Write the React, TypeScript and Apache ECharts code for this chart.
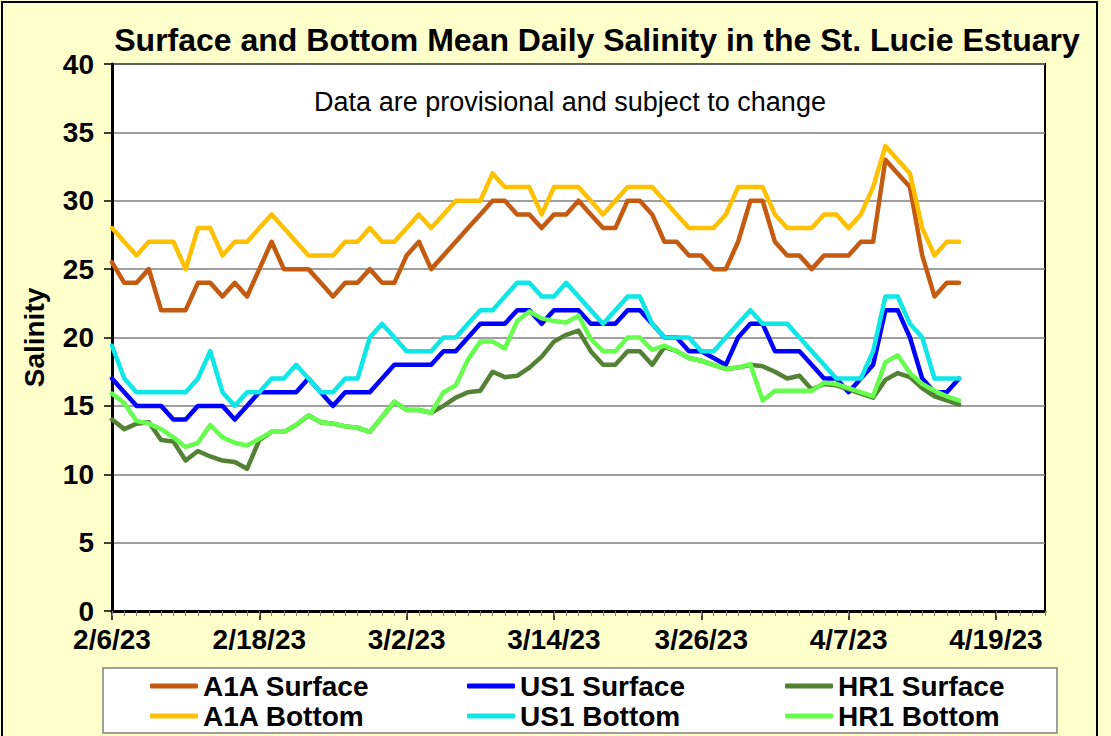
import React, { useEffect, useRef } from "react";
import * as echarts from "echarts";

// Daily series start 2/6/23, one value per day (70 days, through 4/16/23)
const START_DATE = Date.UTC(2023, 1, 6);
const AXIS_DAYS = 76; // axis runs 2/6/23 .. 4/23/23
const MAJOR_DAYS = 12;

const a1aSurface = [25.5, 24, 24, 25, 22, 22, 22, 24, 24, 23, 24, 23, 25, 27, 25, 25, 25, 24, 23, 24, 24, 25, 24, 24, 26, 27, 25, 26, 27, 28, 29, 30, 30, 29, 29, 28, 29, 29, 30, 29, 28, 28, 30, 30, 29, 27, 27, 26, 26, 25, 25, 27, 30, 30, 27, 26, 26, 25, 26, 26, 26, 27, 27, 33, 32, 31, 26, 23, 24, 24];
const a1aBottom = [28, 27, 26, 27, 27, 27, 25, 28, 28, 26, 27, 27, 28, 29, 28, 27, 26, 26, 26, 27, 27, 28, 27, 27, 28, 29, 28, 29, 30, 30, 30, 32, 31, 31, 31, 29, 31, 31, 31, 30, 29, 30, 31, 31, 31, 30, 29, 28, 28, 28, 29, 31, 31, 31, 29, 28, 28, 28, 29, 29, 28, 29, 31, 34, 33, 32, 28, 26, 27, 27];
const us1Surface = [17, 16, 15, 15, 15, 14, 14, 15, 15, 15, 14, 15, 16, 16, 16, 16, 17, 16, 15, 16, 16, 16, 17, 18, 18, 18, 18, 19, 19, 20, 21, 21, 21, 22, 22, 21, 22, 22, 22, 21, 21, 21, 22, 22, 21, 20, 20, 19, 19, 18.5, 18, 20, 21, 21, 19, 19, 19, 18, 17, 17, 16, 17, 18, 22, 22, 20, 17, 16, 16, 17];
const us1Bottom = [19.4, 17, 16, 16, 16, 16, 16, 17, 19, 16, 15, 16, 16, 17, 17, 18, 17, 16, 16, 17, 17, 20, 21, 20, 19, 19, 19, 20, 20, 21, 22, 22, 23, 24, 24, 23, 23, 24, 23, 22, 21, 22, 23, 23, 21, 20, 20, 20, 19, 19, 20, 21, 22, 21, 21, 21, 20, 19, 18, 17, 17, 17, 19, 23, 23, 21, 20, 17, 17, 17];
const hr1Surface = [14.0, 13.3, 13.7, 13.8, 12.5, 12.4, 11.0, 11.7, 11.3, 11.0, 10.9, 10.4, 12.5, 13.1, 13.1, 13.6, 14.3, 13.8, 13.7, 13.5, 13.4, 13.1, 14.2, 15.3, 14.7, 14.7, 14.5, 15.0, 15.6, 16.0, 16.1, 17.5, 17.1, 17.2, 17.8, 18.6, 19.7, 20.2, 20.5, 19.0, 18.0, 18.0, 19.0, 19.0, 18.0, 19.3, 19.0, 18.5, 18.3, 18.0, 17.7, 17.8, 18.0, 17.9, 17.5, 17.0, 17.2, 16.2, 16.6, 16.5, 16.2, 15.9, 15.6, 16.9, 17.4, 17.1, 16.3, 15.7, 15.4, 15.1];
const hr1Bottom = [15.9, 15.2, 13.9, 13.7, 13.3, 12.7, 12.0, 12.3, 13.6, 12.7, 12.3, 12.1, 12.6, 13.1, 13.1, 13.6, 14.3, 13.8, 13.7, 13.5, 13.4, 13.1, 14.2, 15.3, 14.7, 14.7, 14.5, 16.0, 16.5, 18.4, 19.7, 19.7, 19.2, 21.2, 21.9, 21.4, 21.2, 21.1, 21.6, 19.9, 19.0, 19.0, 20.0, 20.0, 19.1, 19.4, 19.0, 18.5, 18.3, 18.0, 17.7, 17.8, 18.05, 15.4, 16.1, 16.1, 16.1, 16.1, 16.7, 16.6, 16.3, 16.0, 15.7, 18.2, 18.7, 17.4, 16.6, 16.1, 15.7, 15.4];

const seriesNames = ["A1A Surface", "US1 Surface", "HR1 Surface", "A1A Bottom", "US1 Bottom", "HR1 Bottom"];
const seriesValues = [a1aSurface, us1Surface, hr1Surface, a1aBottom, us1Bottom, hr1Bottom];
const seriesColors = ["#C55A11", "#0000FF", "#548235", "#FFC000", "#0FE6E6", "#66FF4D"];

const yTicks = { min: 0, max: 40, interval: 5 };

const TITLE = "Surface and Bottom Mean Daily Salinity in the St. Lucie Estuary";
const NOTE = "Data are provisional and subject to change";
const Y_NAME = "Salinity";

const FONT = "Liberation Sans, Arial, sans-serif";

function fmtDate(dayIndex: number): string {
  const d = new Date(START_DATE + dayIndex * 86400000);
  return `${d.getUTCMonth() + 1}/${d.getUTCDate()}/${String(d.getUTCFullYear()).slice(2)}`;
}

// legend layout: 3 columns x 2 rows
const LEGEND_COLS = [150, 467, 785];
const LEGEND_ROWS = [672, 702];

export default function App() {
  const ref = useRef<HTMLDivElement>(null);

  useEffect(() => {
    if (!ref.current) return;
    const chart = echarts.init(ref.current, undefined, { renderer: "svg" });

    const legends = seriesNames.map((name, si) => ({
      data: [name],
      left: LEGEND_COLS[si % 3],
      top: LEGEND_ROWS[Math.floor(si / 3)],
      orient: "horizontal",
      itemWidth: 48,
      itemHeight: 5,
      icon: "roundRect",
      padding: 0,
      textStyle: { fontSize: 28, fontWeight: "bold", color: "#000", fontFamily: FONT, lineHeight: 28 },
      z: 10,
    }));

    chart.setOption({
      animation: false,
      backgroundColor: "#FFFFCC",
      grid: {
        left: 112,
        top: 64,
        right: 1111 - 1045,
        bottom: 736 - 611,
        show: true,
        backgroundColor: "#FFFFFF",
        borderColor: "#000",
        borderWidth: 2,
      },
      graphic: [
        {
          type: "rect",
          z: -1,
          shape: { x: 2, y: 2, width: 1095, height: 760 },
          style: { fill: "none", stroke: "#000", lineWidth: 2 },
          silent: true,
        },
        {
          type: "rect",
          z: 1,
          shape: { x: 103, y: 668, width: 954, height: 65 },
          style: { fill: "#FFFFFF", stroke: "#808080", lineWidth: 1.5 },
          silent: true,
        },
        {
          type: "text",
          x: 597,
          y: 40,
          style: {
            text: TITLE,
            fontSize: 32,
            fontWeight: "bold",
            fontFamily: FONT,
            fill: "#000",
            align: "center",
            verticalAlign: "middle",
          },
        },
        {
          type: "text",
          x: 570,
          y: 102,
          z: 20,
          style: {
            text: NOTE,
            fontSize: 27,
            fontFamily: FONT,
            fill: "#000",
            align: "center",
            verticalAlign: "middle",
          },
        },
      ],
      legend: legends,
      xAxis: [
        {
          type: "value",
          min: 0,
          max: AXIS_DAYS,
          interval: MAJOR_DAYS,
          position: "bottom",
          axisLine: { show: true, onZero: false, lineStyle: { color: "#000", width: 3 } },
          axisTick: { show: true, length: 9, lineStyle: { color: "#000", width: 1.5 } },
          axisLabel: {
            formatter: (v: number) => (v % MAJOR_DAYS === 0 ? fmtDate(v) : ""),
            fontSize: 28,
            fontWeight: "bold",
            color: "#000",
            fontFamily: FONT,
            margin: 14,
            showMaxLabel: false,
          },
          splitLine: { show: false },
        },
        {
          type: "value",
          min: 0,
          max: AXIS_DAYS,
          interval: 1,
          position: "bottom",
          axisLine: { show: false, onZero: false },
          axisTick: { show: true, length: 5, lineStyle: { color: "#808080", width: 1 } },
          axisLabel: { show: false },
          splitLine: { show: false },
        },
      ],
      yAxis: {
        type: "value",
        min: yTicks.min,
        max: yTicks.max,
        interval: yTicks.interval,
        name: Y_NAME,
        nameLocation: "middle",
        nameGap: 64,
        nameRotate: 90,
        nameTextStyle: { fontSize: 28, fontWeight: "bold", color: "#000", fontFamily: FONT },
        axisLine: { show: true, lineStyle: { color: "#000", width: 3 } },
        axisTick: { show: true, length: 8, lineStyle: { color: "#000", width: 1.5 } },
        axisLabel: { fontSize: 28, fontWeight: "bold", color: "#000", fontFamily: FONT, margin: 18 },
        splitLine: { show: true, lineStyle: { color: "#7F7F7F", width: 1.5 } },
      },
      series: seriesNames.map((name, si) => ({
        name,
        type: "line",
        xAxisIndex: 0,
        showSymbol: false,
        symbol: "none",
        color: seriesColors[si],
        lineStyle: { width: 4.5, color: seriesColors[si], cap: "round", join: "round" },
        data: seriesValues[si].map((v, i) => [i, v]),
        z: 2 + si * 0.01,
      })),
    });

    return () => chart.dispose();
  }, []);

  return (
    <div
      ref={ref}
      style={{ position: "absolute", left: 0, top: 0, width: 1111, height: 736 }}
    />
  );
}
